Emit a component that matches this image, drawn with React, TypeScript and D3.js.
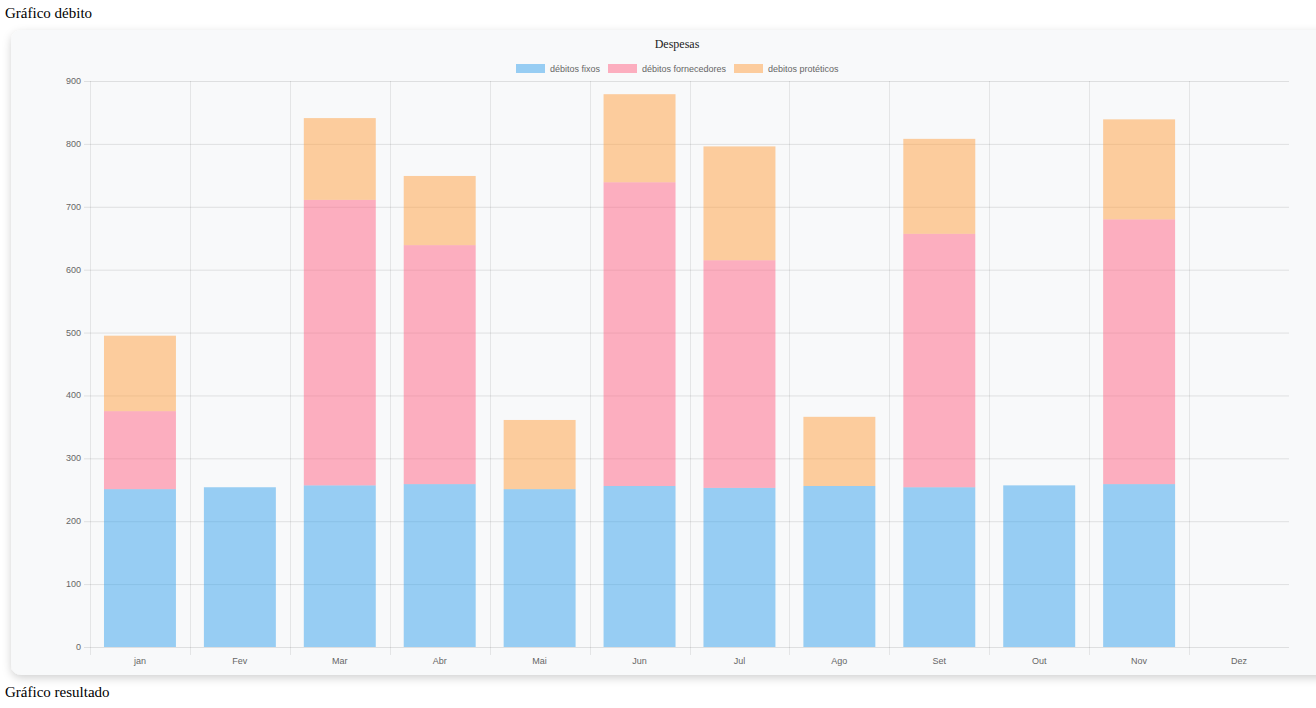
import React from "react";
import * as d3 from "d3";

const months = ["jan", "Fev", "Mar", "Abr", "Mai", "Jun", "Jul", "Ago", "Set", "Out", "Nov", "Dez"];
const fixos = [251, 254, 257, 259, 251, 256, 253, 256, 254, 257, 259, 0];
const fornecedores = [124, 0, 454, 380, 0, 483, 362, 0, 403, 0, 421, 0];
const proteticos = [120, 0, 130, 110, 110, 140, 181, 110, 151, 0, 159, 0];
const yTicks = [0, 100, 200, 300, 400, 500, 600, 700, 800, 900];

const seriesNames = ["débitos fixos", "débitos fornecedores", "debitos protéticos"];
const seriesColors = ["rgba(54,162,235,0.5)", "rgba(255,99,132,0.5)", "rgba(255,159,64,0.5)"];

export default function App() {
  const W = 1316, H = 708;
  const left = 90, right = 1289, top = 81, bottom = 647;
  const x = d3.scaleBand().domain(months).range([left, right]).paddingInner(0).paddingOuter(0);
  const y = d3.scaleLinear().domain([0, 900]).range([bottom, top]);
  const rows = months.map((m, i) => ({ m, fixos: fixos[i], fornecedores: fornecedores[i], proteticos: proteticos[i] }));
  const stack = d3.stack<any>().keys(["fixos", "fornecedores", "proteticos"])(rows);
  const bw = x.bandwidth() * 0.72;
  const legendX = [516, 608, 734];
  const tickFont = "Arial, 'Liberation Sans', sans-serif";
  const serif = "'Liberation Serif', 'Times New Roman', serif";
  return (
    <svg width={W} height={H} style={{ position: "absolute", left: 0, top: 0 }}>
      <defs>
        <filter id="sh" x="-5%" y="-10%" width="110%" height="125%">
          <feDropShadow dx="0" dy="3" stdDeviation="4" floodColor="#000" floodOpacity="0.18" />
        </filter>
      </defs>
      <rect x={0} y={0} width={W} height={H} fill="#fff" />
      <text x={5} y={18} fontFamily={serif} fontSize={15} fill="#000">Gráfico débito</text>
      <rect x={11} y={30} width={1330} height={645} rx={10} fill="#f8f9fa" filter="url(#sh)" />
      <text x={677} y={48} textAnchor="middle" fontFamily={serif} fontSize={12} fill="#222">Despesas</text>
      {seriesNames.map((n, i) => (
        <g key={n}>
          <rect x={legendX[i]} y={64} width={29} height={9} fill={seriesColors[i]} />
          <text x={legendX[i] + 34} y={71.5} fontFamily={tickFont} fontSize={9} fill="#666">{n}</text>
        </g>
      ))}
      {yTicks.map((t) => (
        <g key={t}>
          <line x1={left - 6} x2={right} y1={y(t) + 0.5} y2={y(t) + 0.5} stroke="rgba(0,0,0,0.1)" />
          <text x={left - 9} y={y(t) + 3} textAnchor="end" fontFamily={tickFont} fontSize={9} fill="#666">{t}</text>
        </g>
      ))}
      {months.map((m) => (
        <line key={m} x1={Math.round(x(m)!) + 0.5} x2={Math.round(x(m)!) + 0.5} y1={top} y2={bottom + 8} stroke="rgba(0,0,0,0.08)" />
      ))}
      {stack.map((s, si) => (
        <g key={si}>
          {s.map((d, i) => {
            const h = y(d[0]) - y(d[1]);
            if (h <= 0) return null;
            const cx = x(months[i])! + x.bandwidth() / 2;
            return <rect key={i} x={cx - bw / 2} y={y(d[1])} width={bw} height={h} fill={seriesColors[si]} />;
          })}
        </g>
      ))}
      {months.map((m) => (
        <text key={m} x={x(m)! + x.bandwidth() / 2} y={664} textAnchor="middle" fontFamily={tickFont} fontSize={9} fill="#666">{m}</text>
      ))}
      <text x={5} y={697} fontFamily={serif} fontSize={15} fill="#000">Gráfico resultado</text>
    </svg>
  );
}
